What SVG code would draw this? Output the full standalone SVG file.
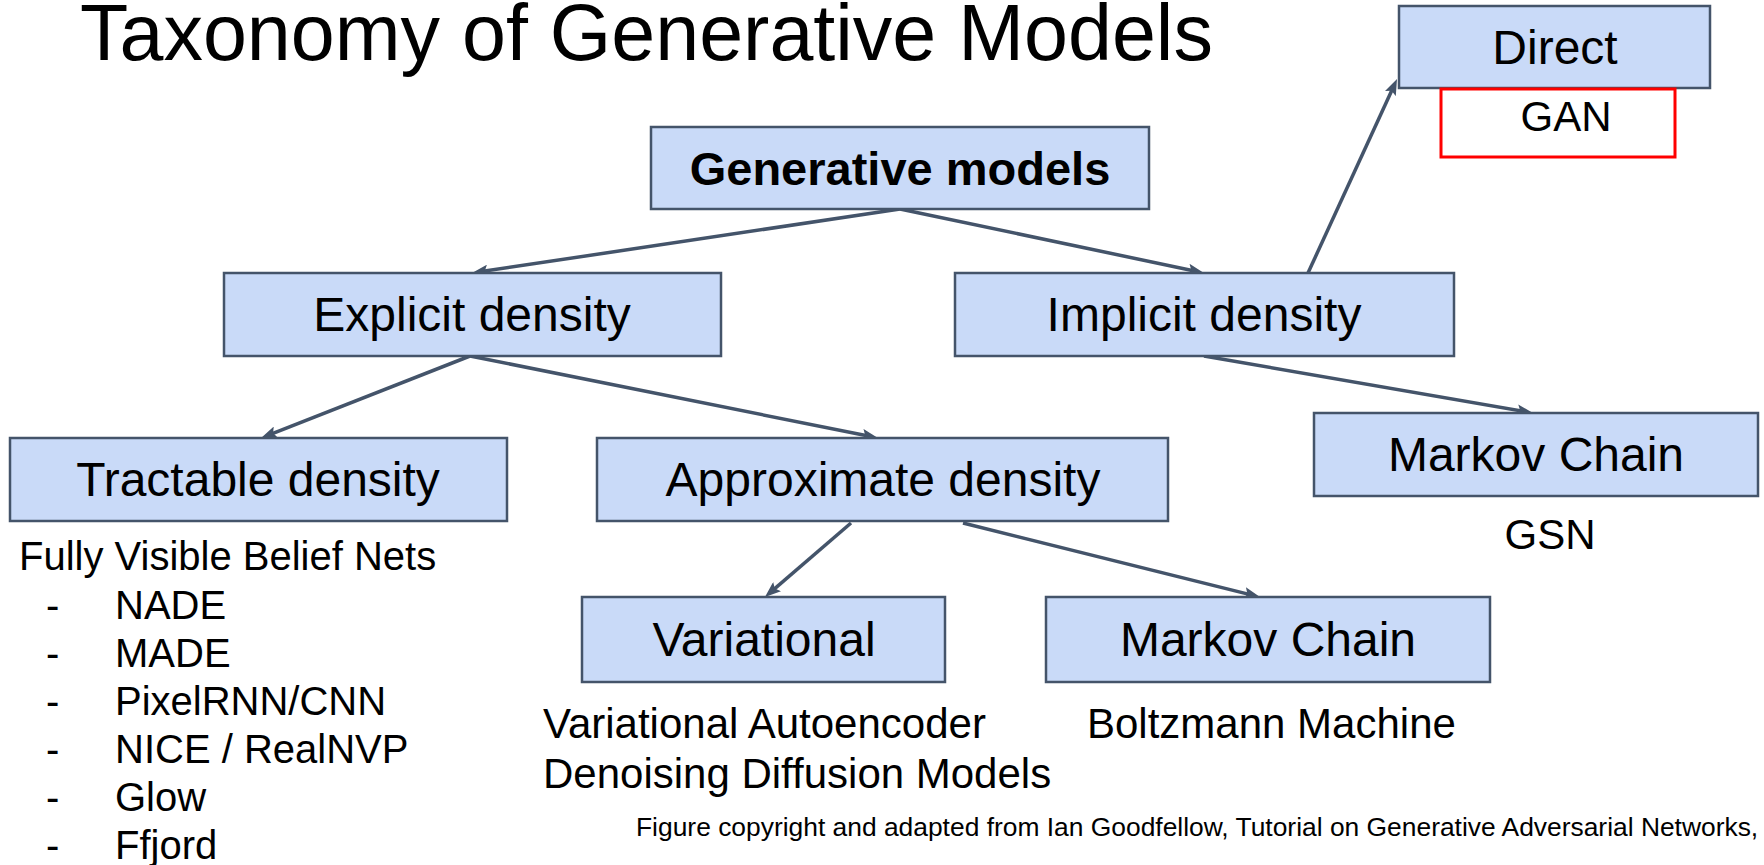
<svg xmlns="http://www.w3.org/2000/svg" width="1764" height="865" viewBox="0 0 1764 865">
  <style>
    text { font-family: "Liberation Sans", Arial, sans-serif; fill: #000; }
    .box { fill: #C9DAF8; stroke: #44546A; stroke-width: 2.5; }
    .lbl { font-size: 48px; text-anchor: middle; }
    .bold { font-weight: bold; font-size: 47px; }
    .sub { font-size: 42px; }
    .list { font-size: 40px; }
    .edge { stroke: #44546A; stroke-width: 3.5; fill: none; marker-end: url(#arrow); }
  </style>
  <defs>
    <marker id="arrow" markerUnits="userSpaceOnUse" markerWidth="16" markerHeight="12" viewBox="0 0 16 12" refX="10" refY="6" orient="auto">
      <path d="M0,0 L16,6 L0,12 L3,6 Z" fill="#44546A"/>
    </marker>
  </defs>

  <rect width="1764" height="865" fill="#fff"/>

  <text x="80" y="60" font-size="79">Taxonomy of Generative Models</text>

  <!-- connectors -->
  <g id="connectors">
    <line class="edge" x1="900" y1="209" x2="477.9" y2="272.1"/>
    <line class="edge" x1="900" y1="209" x2="1198.1" y2="271.7"/>
    <line class="edge" x1="1308" y1="273" x2="1394.5" y2="84.5"/>
    <line class="edge" x1="1204" y1="356" x2="1527.1" y2="412.0"/>
    <line class="edge" x1="470" y1="356" x2="266.6" y2="435.8"/>
    <line class="edge" x1="470" y1="356" x2="872.1" y2="436.8"/>
    <line class="edge" x1="851" y1="523" x2="769.5" y2="593.1"/>
    <line class="edge" x1="963" y1="523" x2="1254.2" y2="595.6"/>
  </g>

  <g id="generative">
    <rect class="box" x="651" y="127" width="498" height="82"/>
    <text class="lbl bold" x="900" y="185">Generative models</text>
  </g>

  <g id="explicit">
    <rect class="box" x="224" y="273" width="497" height="83"/>
    <text class="lbl" x="472" y="331">Explicit density</text>
  </g>

  <g id="implicit">
    <rect class="box" x="955" y="273" width="499" height="83"/>
    <text class="lbl" x="1204" y="331">Implicit density</text>
  </g>

  <g id="direct">
    <rect class="box" x="1399" y="6" width="311" height="82"/>
    <text class="lbl" x="1555" y="64">Direct</text>
  </g>

  <g id="gan">
    <rect x="1441" y="89" width="234" height="68" fill="#fff" stroke="#FF0000" stroke-width="3"/>
    <text class="sub" x="1566" y="131" text-anchor="middle">GAN</text>
  </g>

  <g id="markov-implicit">
    <rect class="box" x="1314" y="413" width="444" height="83"/>
    <text class="lbl" x="1536" y="471">Markov Chain</text>
    <text class="sub" x="1550" y="549" text-anchor="middle">GSN</text>
  </g>

  <g id="tractable">
    <rect class="box" x="10" y="438" width="497" height="83"/>
    <text class="lbl" x="258" y="496">Tractable density</text>
    <text class="list" x="19" y="570">Fully Visible Belief Nets</text>
    <g class="list">
      <text x="46" y="619">-</text><text x="115" y="619">NADE</text>
      <text x="46" y="667">-</text><text x="115" y="667">MADE</text>
      <text x="46" y="715">-</text><text x="115" y="715">PixelRNN/CNN</text>
      <text x="46" y="763">-</text><text x="115" y="763">NICE / RealNVP</text>
      <text x="46" y="811">-</text><text x="115" y="811">Glow</text>
      <text x="46" y="859">-</text><text x="115" y="859">Ffjord</text>
    </g>
  </g>

  <g id="approximate">
    <rect class="box" x="597" y="438" width="571" height="83"/>
    <text class="lbl" x="883" y="496">Approximate density</text>
  </g>

  <g id="variational">
    <rect class="box" x="582" y="597" width="363" height="85"/>
    <text class="lbl" x="764" y="656">Variational</text>
    <text class="sub" x="543" y="738">Variational Autoencoder</text>
    <text class="sub" x="543" y="788">Denoising Diffusion Models</text>
  </g>

  <g id="markov-approx">
    <rect class="box" x="1046" y="597" width="444" height="85"/>
    <text class="lbl" x="1268" y="656">Markov Chain</text>
    <text class="sub" x="1087" y="738">Boltzmann Machine</text>
  </g>

  <text x="636" y="836" font-size="26.4">Figure copyright and adapted from Ian Goodfellow, Tutorial on Generative Adversarial Networks,</text>
</svg>
